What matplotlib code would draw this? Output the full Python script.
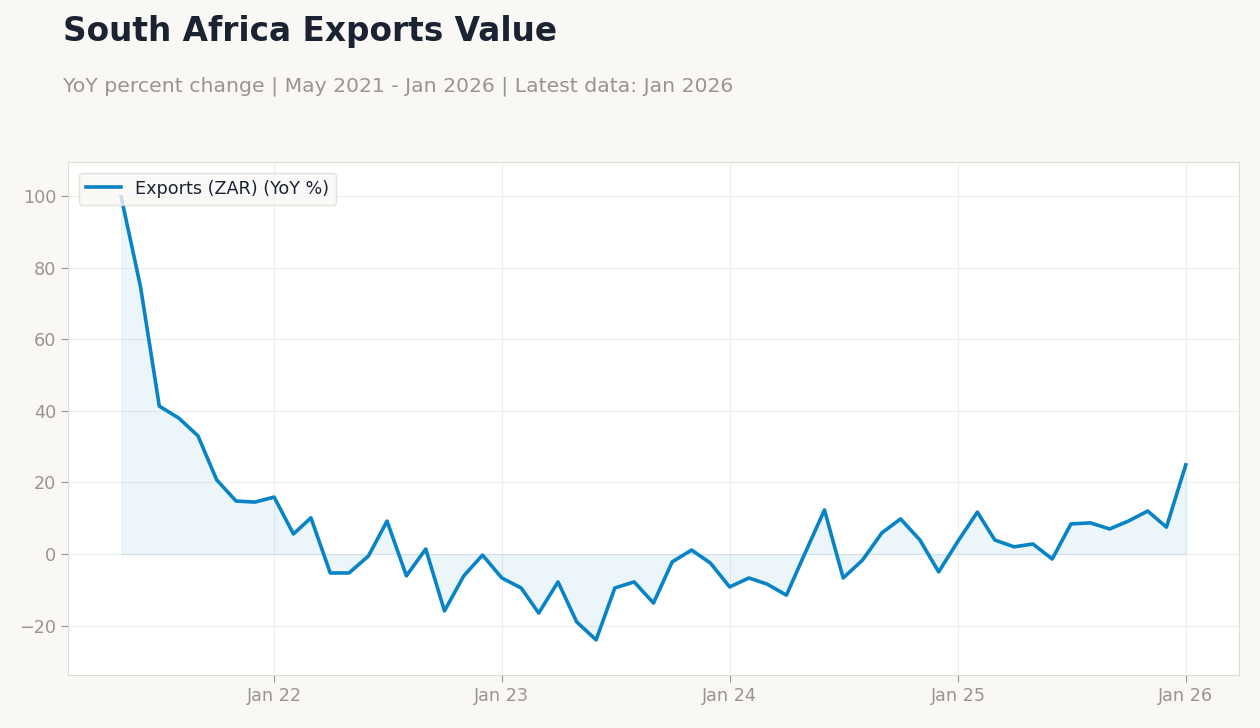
import pandas as pd
import numpy as np
import matplotlib
matplotlib.use("Agg")
import matplotlib.pyplot as plt
import matplotlib.dates as mdates

# monthly YoY % change, May 2021 - Jan 2026
months = pd.date_range("2021-05-01", "2026-01-01", freq="MS")
yoy = [99.7, 74.6, 41.3, 38.0, 33.0, 20.7, 14.8, 14.5,
       15.9, 5.6, 10.1, -5.3, -5.3, -0.6, 9.2, -6.1, 1.4, -15.9, -6.1, -0.3,
       -6.7, -9.5, -16.5, -7.8, -19.0, -24.0, -9.5, -7.8, -13.7, -2.2, 1.1, -2.5,
       -9.2, -6.7, -8.4, -11.5, 0.3, 12.3, -6.7, -1.7, 5.9, 9.8, 3.9, -5.0,
       3.6, 11.7, 3.9, 2.0, 2.8, -1.4, 8.4, 8.7, 7.0, 9.2, 12.0, 7.5,
       24.9]
yticks = [-20, 0, 20, 40, 60, 80, 100]

bg = "#f9f8f5"
line_col = "#0884c6"

fig = plt.figure(figsize=(12.6, 7.28), dpi=100, facecolor=bg)
ax = fig.add_axes([68 / 1260, 1 - 675 / 728, (1239 - 68) / 1260, (675 - 162) / 728])
ax.set_facecolor("white")

ax.plot(months, yoy, color=line_col, linewidth=2.6, label="Exports (ZAR) (YoY %)")
ax.fill_between(months, yoy, 0, color=line_col, alpha=0.08, linewidth=1)

ax.set_ylim(-33.8, 109.5)
span = months[-1] - months[0]
ax.set_xlim(months[0] - span * 0.05, months[-1] + span * 0.05)
ax.set_yticks(yticks)

ax.xaxis.set_major_locator(mdates.YearLocator())
ax.xaxis.set_major_formatter(mdates.DateFormatter("Jan %y"))

ax.grid(True, color="#eeeeee", linewidth=0.8)
ax.set_axisbelow(True)
for s in ax.spines.values():
    s.set_color("#e0dcd5")
ax.tick_params(colors="#999590", labelsize=12.7, length=5, color="#999590")
for lbl in ax.get_xticklabels() + ax.get_yticklabels():
    lbl.set_color("#999590")

leg = ax.legend(loc="upper left", fontsize=12.7, frameon=True, facecolor=bg,
                edgecolor="#e0dcd5", borderaxespad=0.6)
for t in leg.get_texts():
    t.set_color("#1b2333")

fig.text(63 / 1260, 1 - 31 / 728, "South Africa Exports Value", fontsize=23.6,
         fontweight="bold", color="#1b2333", va="center", ha="left")
fig.text(63 / 1260, 1 - 86 / 728, "YoY percent change | May 2021 - Jan 2026 | Latest data: Jan 2026",
         fontsize=14.7, color="#999590", va="center", ha="left")

fig.savefig("out.png", dpi=100, facecolor=bg)
